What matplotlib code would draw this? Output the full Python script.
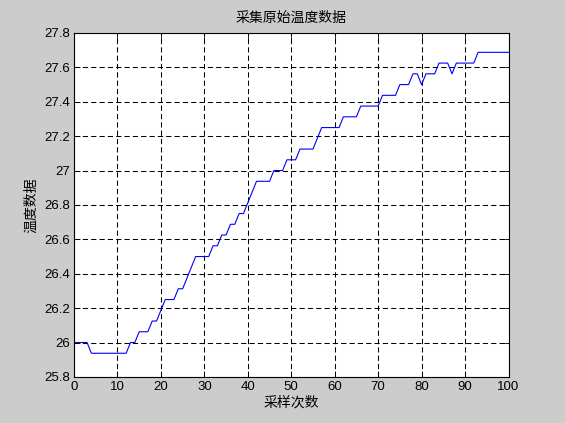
import matplotlib
matplotlib.use('Agg')
import matplotlib.pyplot as plt
import numpy as np

plt.rcParams['font.family'] = ['Liberation Sans', 'Noto Sans CJK SC', 'DejaVu Sans']

# sample index and raw temperature readings (0.0625 C resolution)
samples = np.arange(0, 101)
temps = [26.0, 26.0, 26.0, 26.0,
         25.9375, 25.9375, 25.9375, 25.9375, 25.9375, 25.9375, 25.9375, 25.9375, 25.9375,
         26.0, 26.0,
         26.0625, 26.0625, 26.0625,
         26.125, 26.125,
         26.1875,
         26.25, 26.25, 26.25,
         26.3125, 26.3125,
         26.375, 26.4375,
         26.5, 26.5, 26.5, 26.5,
         26.5625, 26.5625,
         26.625, 26.625,
         26.6875, 26.6875,
         26.75, 26.75,
         26.8125, 26.875,
         26.9375, 26.9375, 26.9375, 26.9375,
         27.0, 27.0, 27.0,
         27.0625, 27.0625, 27.0625,
         27.125, 27.125, 27.125, 27.125,
         27.1875,
         27.25, 27.25, 27.25, 27.25, 27.25,
         27.3125, 27.3125, 27.3125, 27.3125,
         27.375, 27.375, 27.375, 27.375, 27.375,
         27.4375, 27.4375, 27.4375, 27.4375,
         27.5, 27.5, 27.5,
         27.5625, 27.5625,
         27.5,
         27.5625, 27.5625, 27.5625,
         27.625, 27.625, 27.625,
         27.5625,
         27.625, 27.625, 27.625, 27.625, 27.625,
         27.6875, 27.6875, 27.6875, 27.6875, 27.6875, 27.6875, 27.6875, 27.6875]

xticks = np.arange(0, 101, 10)
yticks = np.round(np.arange(25.8, 27.81, 0.2), 1)

fig = plt.figure(figsize=(5.65, 4.23), dpi=100, facecolor='#cccccc')
ax = fig.add_axes([0.131, 0.109, 0.769, 0.813])
ax.plot(samples, temps, color='blue', lw=0.8)

ax.set_xlim(0, 100)
ax.set_ylim(25.8, 27.8)
ax.set_xticks(xticks)
ax.set_yticks(yticks)
ax.set_yticklabels(['%g' % v for v in yticks])
ax.tick_params(direction='in', top=True, right=True, length=4, width=0.6,
               labelsize=9.5, pad=3)
ax.grid(True, color='black', linestyle=(0, (5, 3)), linewidth=0.75)
for s in ax.spines.values():
    s.set_linewidth(0.8)

ax.set_title('采集原始温度数据', fontsize=10, pad=8)
ax.set_xlabel('采样次数', fontsize=10, labelpad=2)
ax.set_ylabel('温度数据', fontsize=10, labelpad=4)

fig.savefig('out.png', dpi=100, facecolor=fig.get_facecolor())
